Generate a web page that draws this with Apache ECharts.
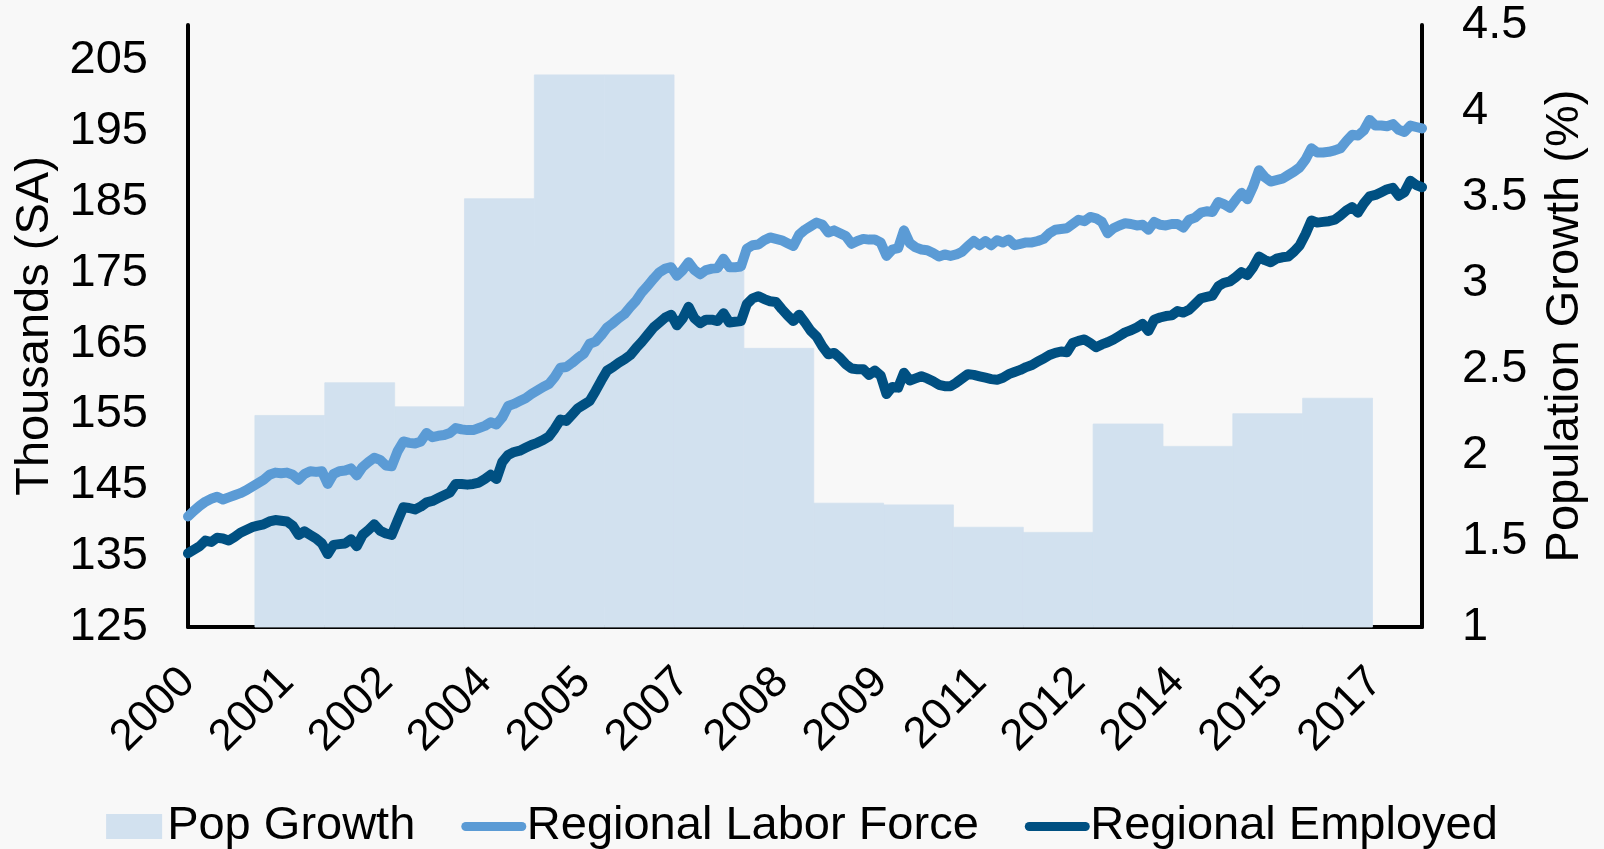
<!DOCTYPE html>
<html>
<head>
<meta charset="utf-8">
<script src="https://cdn.jsdelivr.net/npm/echarts@6/dist/echarts.min.js"></script>
<style>
html,body{margin:0;padding:0;background:#f8f8f8;}
#chart{width:1604px;height:849px;}
</style>
</head>
<body>
<div id="chart"></div>
<script>
// ---- data ----
const startYear = 2000;
// Annual population growth (%) for 2000..2017 (null = not shown)
const popYears = [2000,2001,2002,2003,2004,2005,2006,2007,2008,2009,2010,2011,2012,2013,2014,2015,2016,2017];
const popGrowth = [null,2.23,2.42,2.28,3.49,4.21,4.21,3.07,2.62,1.72,1.71,1.58,1.55,2.18,2.05,2.24,2.33,null];

// Monthly, Jan 2000 .. Sep 2017 (thousands, SA)
const laborForce = [
140.6,141.4,142.1,142.7,143.1,143.4,143.0,143.3,143.6,143.9,144.3,144.8,
145.3,145.8,146.5,146.8,146.7,146.8,146.5,145.8,146.6,147.0,146.9,147.0,
145.2,146.6,147.0,147.1,147.4,146.4,147.6,148.3,148.9,148.6,147.8,147.7,
149.8,151.2,151.0,150.9,151.2,152.4,151.8,152.0,152.1,152.4,153.1,152.9,
152.8,152.8,153.1,153.4,153.9,153.6,154.6,156.2,156.5,156.9,157.3,157.9,
158.4,158.9,159.3,160.3,161.6,161.7,162.3,163.0,163.6,165.0,165.3,166.2,
167.3,167.9,168.6,169.2,170.2,171.1,172.3,173.2,174.2,175.1,175.6,175.8,
174.6,175.4,176.5,175.4,174.8,175.4,175.6,175.7,177.0,175.8,175.8,175.9,
178.4,178.9,179.0,179.6,180.0,179.8,179.6,179.2,178.8,180.4,181.1,181.6,
182.1,181.8,180.7,181.0,180.6,180.2,179.1,179.5,179.8,179.7,179.7,179.3,
177.4,178.3,178.5,181.0,179.2,178.6,178.3,178.2,177.8,177.3,177.6,177.4,
177.6,178.0,178.8,179.5,178.9,179.5,178.9,179.6,179.3,179.7,178.9,179.1,
179.3,179.3,179.5,179.8,180.6,181.1,181.2,181.3,181.9,182.5,182.3,182.9,
182.7,182.2,180.6,181.3,181.7,182.0,181.9,181.7,181.8,181.1,182.2,181.8,
181.7,181.9,181.9,181.4,182.5,182.8,183.5,183.7,183.6,185.0,184.7,184.2,
185.3,186.3,185.4,187.2,189.5,188.5,187.9,188.1,188.3,188.8,189.3,189.9,
191.0,192.6,192.0,192.0,192.1,192.3,192.6,193.6,194.5,194.4,195.1,196.6,
195.8,195.8,195.7,196.0,195.2,194.9,195.8,195.6,195.4
];
const employed = [
135.4,135.9,136.4,137.2,137.0,137.6,137.5,137.2,137.7,138.3,138.7,139.1,
139.3,139.5,139.9,140.1,140.0,139.9,139.3,138.0,138.5,138.0,137.5,136.8,
135.3,136.6,136.7,136.8,137.4,136.4,138.0,138.7,139.5,138.6,138.2,138.0,
140.0,141.9,141.8,141.6,142.0,142.6,142.8,143.2,143.6,144.0,145.2,145.2,
145.1,145.2,145.4,145.9,146.5,145.9,148.3,149.3,149.7,149.9,150.3,150.7,
151.0,151.4,151.9,153.0,154.3,154.1,155.0,155.9,156.4,156.9,158.3,159.8,
161.2,161.7,162.3,162.8,163.4,164.4,165.3,166.3,167.3,168.0,168.7,169.1,
167.6,168.6,170.2,168.6,167.9,168.4,168.4,168.2,169.3,168.0,168.1,168.2,
170.6,171.4,171.7,171.3,171.0,170.9,169.9,169.0,168.2,169.1,168.0,166.8,
166.0,164.6,163.5,163.7,163.0,162.1,161.5,161.4,161.4,160.6,161.2,160.5,
157.9,158.9,158.8,160.9,159.8,160.1,160.4,160.1,159.7,159.2,159.0,159.0,
159.5,160.1,160.7,160.6,160.4,160.2,160.0,159.9,160.2,160.7,161.0,161.3,
161.7,162.0,162.5,162.9,163.4,163.7,163.9,163.8,165.1,165.4,165.6,165.1,
164.5,164.9,165.2,165.6,166.1,166.6,166.9,167.3,167.8,166.8,168.4,168.7,
168.9,169.0,169.6,169.4,169.8,170.6,171.4,171.6,171.8,173.1,173.6,173.8,
174.4,175.1,174.7,175.8,177.3,176.8,176.5,177.0,177.2,177.3,178.0,178.9,
180.5,182.4,182.1,182.2,182.3,182.5,183.1,183.8,184.3,183.5,184.8,185.8,
186.0,186.4,186.8,187.0,185.9,186.4,188.0,187.4,187.1
];
const leftTicks = [125,135,145,155,165,175,185,195,205];

// ---- build tables ----
const months = [];
for (let i = 0; i < laborForce.length; i++) {
  const y = startYear + Math.floor(i / 12);
  const m = (i % 12) + 1;
  months.push(y + '-' + (m < 10 ? '0' + m : m));
}
// one block per year: [index of January on the monthly axis, growth]
const popBlocks = [];
popYears.forEach(function (yr, k) {
  if (popGrowth[k] != null) popBlocks.push([(yr - startYear) * 12, popGrowth[k]]);
});

const FONT = '"Liberation Sans", Arial, sans-serif';
const LIGHT = '#5b9bd5', DARK = '#005082', BAR = '#d2e1ef';
const chart = echarts.init(document.getElementById('chart'), null, {renderer: 'canvas'});
chart.setOption({
  backgroundColor: '#f8f8f8',
  animation: false,
  textStyle: {fontFamily: FONT, color: '#000'},
  grid: {left: 188, right: 182, top: 25, bottom: 222, containLabel: false},
  legend: {
    top: 798,
    left: 'center',
    itemGap: 46,
    itemWidth: 56,
    itemHeight: 25,
    textStyle: {fontFamily: FONT, fontSize: 47, color: '#000'},
    data: [
      {name: 'Pop Growth', icon: 'rect', itemStyle: {color: BAR, borderWidth: 0}},
      {name: 'Regional Labor Force', itemStyle: {opacity: 0},
        lineStyle: {color: LIGHT, width: 9, cap: 'round'}},
      {name: 'Regional Employed', itemStyle: {opacity: 0},
        lineStyle: {color: DARK, width: 9, cap: 'round'}}
    ]
  },
  xAxis: {
    type: 'category',
    data: months,
    boundaryGap: false,
    axisLine: {show: true, onZero: false, lineStyle: {color: '#000', width: 4}},
    axisTick: {show: false},
    splitLine: {show: false},
    axisLabel: {
      interval: 16,
      rotate: 45,
      margin: 48,
      fontSize: 44,
      fontFamily: FONT,
      color: '#000',
      formatter: function (v) { return v.slice(0, 4); }
    }
  },
  yAxis: [
    {
      type: 'value',
      position: 'left',
      min: 125,
      max: 210,
      name: 'Thousands (SA)',
      nameLocation: 'middle',
      nameGap: 126,
      nameTextStyle: {fontSize: 47, fontFamily: FONT, color: '#000'},
      axisLine: {show: true, lineStyle: {color: '#000', width: 4}},
      axisTick: {show: false},
      splitLine: {show: false},
      axisLabel: {
        customValues: leftTicks,
        fontSize: 47, fontFamily: FONT, color: '#000', margin: 40
      }
    },
    {
      type: 'value',
      position: 'right',
      min: 1,
      max: 4.5,
      interval: 0.5,
      name: 'Population Growth (%)',
      nameLocation: 'middle',
      nameRotate: 90,
      nameGap: 120,
      nameTextStyle: {fontSize: 47, fontFamily: FONT, color: '#000'},
      axisLine: {show: true, lineStyle: {color: '#000', width: 4}},
      axisTick: {show: false},
      splitLine: {show: false},
      axisLabel: {fontSize: 47, fontFamily: FONT, color: '#000', margin: 40}
    }
  ],
  series: [
    {
      name: 'Pop Growth',
      type: 'custom',
      yAxisIndex: 1,
      data: popBlocks,
      encode: {x: 0, y: 1},
      itemStyle: {color: BAR},
      z: 1,
      silent: true,
      renderItem: function (params, api) {
        const m = api.value(0), v = api.value(1);
        const bw = api.size([1, 0])[0];
        const top = api.coord([m, v]);
        const endPt = api.coord([m + 11, 1]);
        const x0 = top[0] - bw / 2;
        const x1 = endPt[0] + bw / 2;
        return {
          type: 'rect',
          shape: {x: x0, y: top[1], width: x1 - x0, height: endPt[1] - top[1]},
          style: {fill: BAR, stroke: BAR, lineWidth: 0.8}
        };
      }
    },
    {
      name: 'Regional Labor Force',
      type: 'line',
      yAxisIndex: 0,
      data: laborForce,
      symbol: 'none',
      color: LIGHT,
      lineStyle: {color: LIGHT, width: 10, cap: 'round', join: 'round'},
      z: 3
    },
    {
      name: 'Regional Employed',
      type: 'line',
      yAxisIndex: 0,
      data: employed,
      symbol: 'none',
      color: DARK,
      lineStyle: {color: DARK, width: 10, cap: 'round', join: 'round'},
      z: 4
    }
  ]
});
</script>
</body>
</html>
